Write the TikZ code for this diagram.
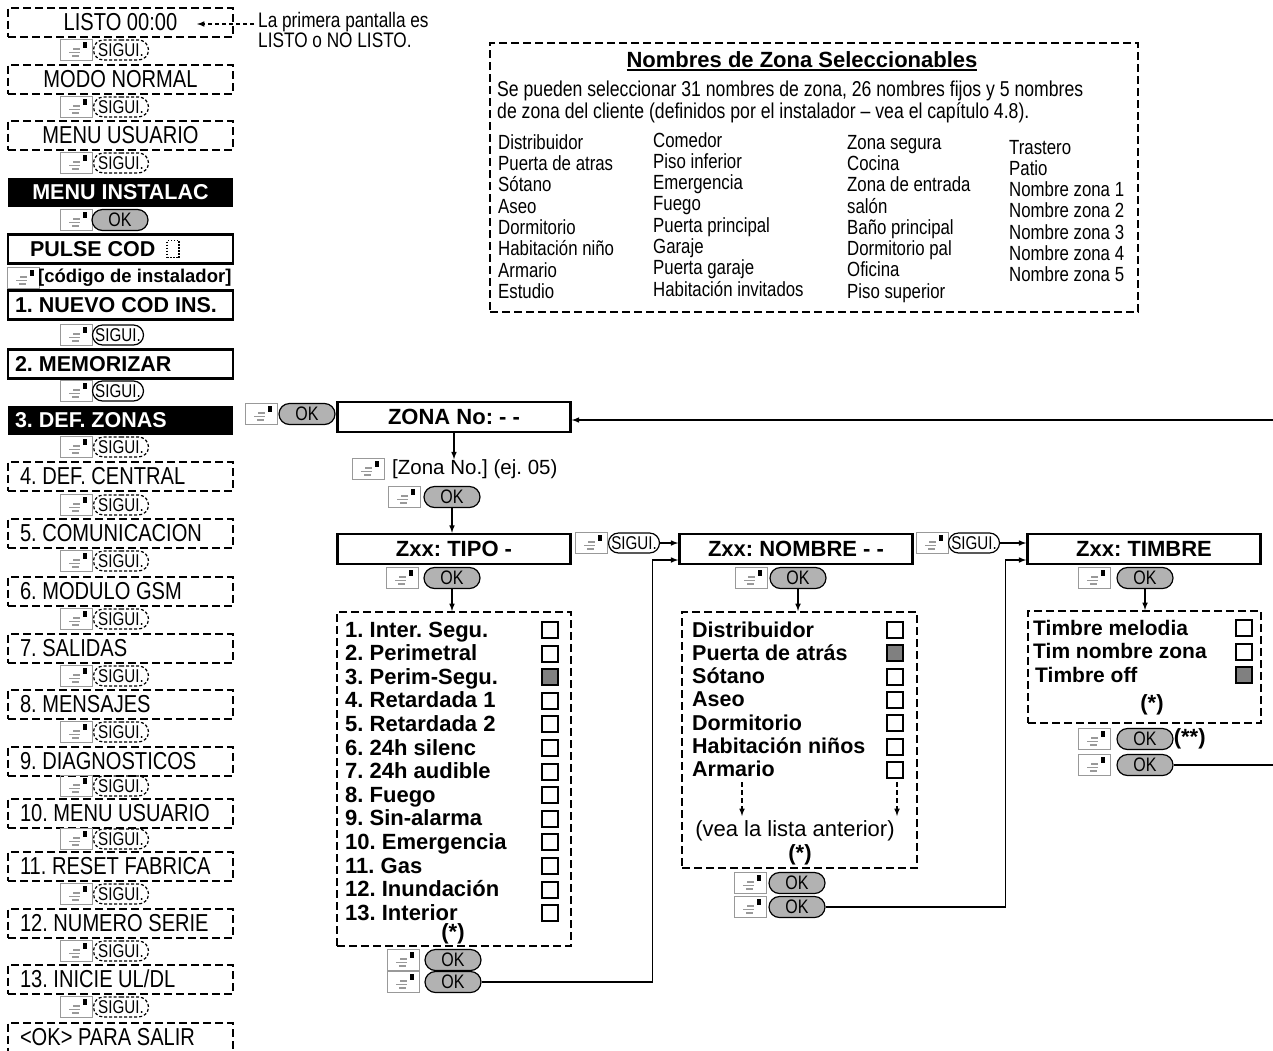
\documentclass[tikz,border=0pt]{standalone}
\usepackage{fontspec}
\setmainfont{Liberation Sans}
\newfontfamily\narrowfont[FakeStretch=0.82]{Liberation Sans}
\usetikzlibrary{arrows,shapes.misc}

\newcommand{\menufont}{\narrowfont\fontsize{24.5}{26}\selectfont}
\newcommand{\menubf}{\fontsize{21.5}{24}\selectfont\bfseries}
\newcommand{\codebf}{\fontsize{18.5}{20}\selectfont\bfseries}
\newcommand{\titlebf}{\fontsize{22}{24}\selectfont\bfseries}
\newcommand{\listbf}{\fontsize{22}{23.6}\selectfont\bfseries}
\newcommand{\nlistbf}{\fontsize{21.5}{23.3}\selectfont\bfseries}
\newcommand{\mlistbf}{\fontsize{21}{23.5}\selectfont\bfseries}
\newcommand{\namefont}{\narrowfont\fontsize{20.5}{21.3}\selectfont}
\newcommand{\introfont}{\narrowfont\fontsize{21.5}{21.3}\selectfont}
\newcommand{\notefont}{\narrowfont\fontsize{21}{20}\selectfont}
\newcommand{\zonafont}{\fontsize{20.5}{22}\selectfont}
\newcommand{\veafont}{\fontsize{22}{24}\selectfont}
\newcommand{\btnfont}{\narrowfont\fontsize{19.5}{20}\selectfont}
\newcommand{\sigfont}{\narrowfont\fontsize{18.5}{19}\selectfont}
\newcommand{\thickul}[1]{\vtop{\hbox{#1}\kern1.5pt\hrule height 2pt}}
\setlength{\fboxrule}{2pt}
\setlength{\fboxsep}{0pt}
\newcommand{\chkoff}{\fcolorbox{black}{white}{\rule{0pt}{14pt}\rule{14pt}{0pt}}}
\newcommand{\chkon}{\fcolorbox{black}{gray}{\rule{0pt}{14pt}\rule{14pt}{0pt}}}

\begin{document}
\frenchspacing
\begin{tikzpicture}[x=1pt,y=-1pt,>=latex,
  menubox/.style={minimum height=29pt, inner xsep=7pt, inner ysep=0pt, text width=211pt},
  dashbox/.style={draw, line width=2pt, dash pattern=on 8pt off 4pt},
  solidbox/.style={draw, line width=2.5pt},
  blackbox/.style={fill=black, text=white},
  dashitem/.style={menubox, dashbox, align=flush left, font=\menufont, inner xsep=12pt, text width=201pt},
  keyic/.style={draw=gray!80, line width=1pt, minimum width=32pt, minimum height=21pt, inner sep=0pt,
    path picture={
      \draw[shift={(path picture bounding box.center)}, line width=1.2pt]
        (-3,-1) -- (4,-1) (-7,2.5) -- (4,2.5) (-4,6) -- (3,6);
      \fill[shift={(path picture bounding box.center)}] (7,-8) rectangle (11,-2);
    }},
  okbtn/.style={rounded rectangle, draw, line width=1.2pt, fill=gray!60, minimum width=56pt,
    minimum height=21pt, inner sep=0pt, font=\btnfont},
  sigbtn/.style={rounded rectangle, draw, line width=1.2pt, minimum width=51pt,
    minimum height=20pt, inner sep=0pt, font=\sigfont},
  sigdash/.style={sigbtn, dash pattern=on 3pt off 2pt, minimum width=55pt},
  zonetitle/.style={solidbox, minimum width=233pt, minimum height=30pt, inner sep=0pt, font=\titlebf},
  listframe/.style={dashbox, inner sep=0pt},
  link/.style={line width=1.5pt}]
  \useasboundingbox (0,0) rectangle (1273,1050);

  % Installer menu column
  \node[menubox,dashbox,align=flush center,font=\menufont] (listo) at (120.5,22) {LISTO 00:00};
  \node[keyic] (k1) at (76,50) {};
  \node[sigdash] (s1) at (121,50) {SIGUI.};
  \node[menubox,dashbox,align=flush center,font=\menufont] (modo) at (120.5,79) {MODO NORMAL};
  \node[keyic] (k2) at (76,107) {};
  \node[sigdash] (s2) at (121,107) {SIGUI.};
  \node[menubox,dashbox,align=flush center,font=\menufont] (usuario) at (120.5,135) {MENU USUARIO};
  \node[keyic] (k3) at (76,163) {};
  \node[sigdash] (s3) at (121,163) {SIGUI.};
  \node[menubox,blackbox,align=flush center,font=\menubf] (instalac) at (120.5,192) {MENU INSTALAC};
  \node[keyic] (k4) at (76,220) {};
  \node[okbtn] (ok4) at (120,220) {OK};
  \node[menubox,solidbox,align=flush left,font=\menubf] (pulse) at (120.5,249) {\hspace*{15pt}PULSE COD};
  \node[draw, line width=1.2pt, dash pattern=on 1.5pt off 1.5pt, minimum width=12pt,
    minimum height=17pt, inner sep=0pt] (cursor) at (173,249) {};
  \node[keyic] (kcod) at (23,278) {};
  \node[anchor=west, inner sep=0pt, font=\codebf] (codigo) at (38,278) {[código de instalador]};
  \node[menubox,solidbox,align=flush left,font=\menubf] (nuevo) at (120.5,305) {1. NUEVO COD INS.};
  \node[keyic] (k5) at (76,335) {};
  \node[sigbtn] (s5) at (118,335) {SIGUI.};
  \node[menubox,solidbox,align=flush left,font=\menubf] (memo) at (120.5,364) {2. MEMORIZAR};
  \node[keyic] (k6) at (76,391) {};
  \node[sigbtn] (s6) at (118,391) {SIGUI.};
  \node[menubox,blackbox,align=flush left,font=\menubf] (defzonas) at (120.5,420) {3. DEF. ZONAS};
  \node[keyic] (k7) at (76,447) {};
  \node[sigdash] (s7) at (121,447) {SIGUI.};
  \node[dashitem] (central) at (120.5,476) {4. DEF. CENTRAL};
  \node[keyic] (k8) at (76,505) {};
  \node[sigdash] (s8) at (121,505) {SIGUI.};
  \node[dashitem] (comun) at (120.5,533) {5. COMUNICACION};
  \node[keyic] (k9) at (76,561) {};
  \node[sigdash] (s9) at (121,561) {SIGUI.};
  \node[dashitem] (gsm) at (120.5,591) {6. MODULO GSM};
  \node[keyic] (k10) at (76,619) {};
  \node[sigdash] (s10) at (121,619) {SIGUI.};
  \node[dashitem] (salidas) at (120.5,648) {7. SALIDAS};
  \node[keyic] (k11) at (76,676) {};
  \node[sigdash] (s11) at (121,676) {SIGUI.};
  \node[dashitem] (mensajes) at (120.5,704) {8. MENSAJES};
  \node[keyic] (k12) at (76,732) {};
  \node[sigdash] (s12) at (121,732) {SIGUI.};
  \node[dashitem] (diag) at (120.5,761) {9. DIAGNOSTICOS};
  \node[keyic] (k13) at (76,786) {};
  \node[sigdash] (s13) at (121,786) {SIGUI.};
  \node[dashitem] (usuario2) at (120.5,813) {10. MENU USUARIO};
  \node[keyic] (k14) at (76,839) {};
  \node[sigdash] (s14) at (121,839) {SIGUI.};
  \node[dashitem] (reset) at (120.5,866) {11. RESET FABRICA};
  \node[keyic] (k15) at (76,894) {};
  \node[sigdash] (s15) at (121,894) {SIGUI.};
  \node[dashitem] (serie) at (120.5,923) {12. NUMERO SERIE};
  \node[keyic] (k16) at (76,951) {};
  \node[sigdash] (s16) at (121,951) {SIGUI.};
  \node[dashitem] (inicie) at (120.5,979) {13. INICIE UL/DL};
  \node[keyic] (k17) at (76,1007) {};
  \node[sigdash] (s17) at (121,1007) {SIGUI.};
  \node[dashitem] (salir) at (120.5,1037) {<OK> PARA SALIR};

  % First screen note
  \node[anchor=base west, inner sep=0pt, font=\notefont] (note) at (258,27)
    {\begin{tabular}[t]{@{}l@{}}La primera pantalla es\\LISTO o NO LISTO.\end{tabular}};
  \coordinate (listoin) at (197,24);
  \draw[link,->,dash pattern=on 4pt off 3pt] ([xshift=-4pt]note.west |- listoin) -- (listoin);

  % Zone names box
  \node[dashbox, minimum width=648pt, minimum height=269pt, inner sep=0pt] (zbox) at (814,177.5) {};
  \node[anchor=base, inner sep=0pt, font=\titlebf] (ztitle) at (802,67) {\thickul{Nombres de Zona Seleccionables}};
  \node[anchor=base west, inner sep=0pt, font=\introfont] (zintro) at (497,96)
    {\begin{tabular}[t]{@{}l@{}}Se pueden seleccionar 31 nombres de zona, 26 nombres fijos y 5 nombres\\
     de zona del cliente (definidos por el instalador – vea el capítulo 4.8).\end{tabular}};
  \node[anchor=base west, inner sep=0pt, font=\namefont] (zcol1) at (498,149)
    {\begin{tabular}[t]{@{}l@{}}Distribuidor\\Puerta de atras\\Sótano\\Aseo\\Dormitorio\\
     Habitación niño\\Armario\\Estudio\end{tabular}};
  \node[anchor=base west, inner sep=0pt, font=\namefont] (zcol2) at (653,147)
    {\begin{tabular}[t]{@{}l@{}}Comedor\\Piso inferior\\Emergencia\\Fuego\\Puerta principal\\
     Garaje\\Puerta garaje\\Habitación invitados\end{tabular}};
  \node[anchor=base west, inner sep=0pt, font=\namefont] (zcol3) at (847,149)
    {\begin{tabular}[t]{@{}l@{}}Zona segura\\Cocina\\Zona de entrada\\salón\\Baño principal\\
     Dormitorio pal\\Oficina\\Piso superior\end{tabular}};
  \node[anchor=base west, inner sep=0pt, font=\namefont] (zcol4) at (1009,154)
    {\begin{tabular}[t]{@{}l@{}}Trastero\\Patio\\Nombre zona 1\\Nombre zona 2\\Nombre zona 3\\
     Nombre zona 4\\Nombre zona 5\end{tabular}};

  % Zone number
  \node[keyic] (kz) at (261,414) {};
  \node[okbtn] (okz) at (307,414) {OK};
  \node[zonetitle] (zona) at (454,417) {ZONA No: - -};
  \coordinate (back) at (1273,420);
  \draw[link,->] (back) -- (back -| zona.east);
  \node[keyic] (kzn) at (368,469) {};
  \node[anchor=west, inner sep=0pt, font=\zonafont] (zonano) at (392,469) {[Zona No.] (ej. 05)};
  \draw[link,->] (zona.south) -- (zona.south |- zonano.north);
  \node[keyic] (kz2) at (404,497) {};
  \node[okbtn] (okz2) at (452,497) {OK};

  % Zone type
  \node[zonetitle] (tipo) at (454,549) {Zxx: TIPO -};
  \draw[link,->] (okz2.south) -- (okz2.south |- tipo.north);
  \node[keyic] (kt) at (402,578) {};
  \node[okbtn] (okt) at (452,578) {OK};
  \node[listframe, minimum width=234pt, minimum height=334pt] (tlist) at (454,779) {};
  \draw[link,->] (okt.south) -- (okt.south |- tlist.north);
  \node[anchor=base west, inner sep=0pt, font=\listbf] (titems) at (345,637)
    {\begin{tabular}[t]{@{}p{196pt}@{}l@{}}
     1. Inter. Segu. & \chkoff\\
     2. Perimetral & \chkoff\\
     3. Perim-Segu. & \chkon\\
     4. Retardada 1 & \chkoff\\
     5. Retardada 2 & \chkoff\\
     6. 24h silenc & \chkoff\\
     7. 24h audible & \chkoff\\
     8. Fuego & \chkoff\\
     9. Sin-alarma & \chkoff\\
     10. Emergencia & \chkoff\\
     11. Gas & \chkoff\\
     12. Inundación & \chkoff\\
     13. Interior & \chkoff
     \end{tabular}};
  \node[font=\listbf] (tstar) at (453,934) {(*)};
  \node[keyic] (kt2) at (403,960) {};
  \node[okbtn] (okt2) at (453,960) {OK};
  \node[keyic] (kt3) at (403,982) {};
  \node[okbtn] (okt3) at (453,982) {OK};

  % Zone name
  \node[keyic] (kn) at (591,543) {};
  \node[sigbtn] (sn) at (634,543) {SIGUI.};
  \node[zonetitle] (nombre) at (796,549) {Zxx: NOMBRE - -};
  \draw[link,->] (sn.east) -- (sn.east -| nombre.west);
  \draw[link,->] (okt3.east) -- ++(171,0) |- ([yshift=-11pt]nombre.west);
  \node[keyic] (kn2) at (751,578) {};
  \node[okbtn] (okn) at (798,578) {OK};
  \node[listframe, minimum width=235pt, minimum height=256pt] (nlist) at (799.5,740) {};
  \draw[link,->] (okn.south) -- (okn.south |- nlist.north);
  \node[anchor=base west, inner sep=0pt, font=\nlistbf] (nitems) at (692,637)
    {\begin{tabular}[t]{@{}p{194pt}@{}l@{}}
     Distribuidor & \chkoff\\
     Puerta de atrás & \chkon\\
     Sótano & \chkoff\\
     Aseo & \chkoff\\
     Dormitorio & \chkoff\\
     Habitación niños & \chkoff\\
     Armario & \chkoff
     \end{tabular}};
  \coordinate (na1) at (742,782);
  \coordinate (nb1) at (742,816);
  \coordinate (na2) at (897,782);
  \coordinate (nb2) at (897,816);
  \draw[link,->,dash pattern=on 5pt off 3pt] (na1) -- (nb1);
  \draw[link,->,dash pattern=on 5pt off 3pt] (na2) -- (nb2);
  \node[font=\veafont] (vea) at (795,831) {(vea la lista anterior)};
  \node[font=\listbf] (nstar) at (800,855) {(*)};
  \node[keyic] (kn3) at (750,883) {};
  \node[okbtn] (okn2) at (797,883) {OK};
  \node[keyic] (kn4) at (750,907) {};
  \node[okbtn] (okn3) at (797,907) {OK};

  % Zone chime
  \node[keyic] (km) at (932,543) {};
  \node[sigbtn] (sm) at (974,543) {SIGUI.};
  \node[zonetitle] (timbre) at (1144,549) {Zxx: TIMBRE};
  \draw[link,->] (sm.east) -- (sm.east -| timbre.west);
  \draw[link,->] (okn3.east) -- ++(180,0) |- ([yshift=-11pt]timbre.west);
  \node[keyic] (km2) at (1094,578) {};
  \node[okbtn] (okm) at (1145,578) {OK};
  \node[listframe, minimum width=233pt, minimum height=112pt] (mlist) at (1144.5,667) {};
  \draw[link,->] (okm.south) -- (okm.south |- mlist.north);
  \node[anchor=base west, inner sep=0pt, font=\mlistbf] (mitems) at (1033,635)
    {\begin{tabular}[t]{@{}p{202pt}@{}l@{}}
     Timbre melodia & \chkoff\\
     Tim nombre zona & \chkoff\\
     \hspace*{2pt}Timbre off & \chkon
     \end{tabular}};
  \node[font=\listbf] (mstar) at (1152,705) {(*)};
  \node[keyic] (km3) at (1094,739) {};
  \node[okbtn] (okm2) at (1145,739) {OK};
  \node[anchor=west, inner sep=0pt, font=\listbf] (dstar) at (okm2.east) {(**)};
  \node[keyic] (km4) at (1094,765) {};
  \node[okbtn] (okm3) at (1145,765) {OK};
  \coordinate (out) at (1273,765);
  \draw[link] (okm3.east) -- (out);
\end{tikzpicture}
\end{document}
